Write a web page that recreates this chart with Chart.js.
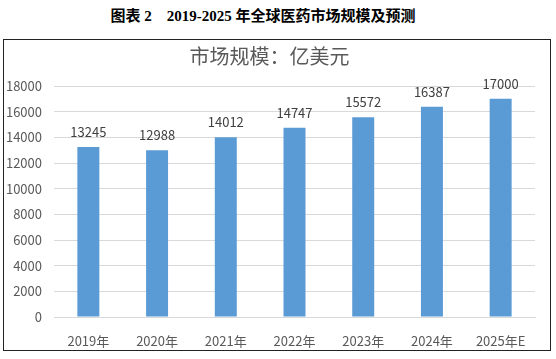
<!DOCTYPE html>
<html>
<head>
<meta charset="utf-8">
<script src="https://cdn.jsdelivr.net/npm/chart.js@4"></script>
<style>
  body { margin: 0; background: #fff; width: 556px; height: 359px; position: relative; }
  .page-title {
    position: absolute; left: 0; top: 4px; width: 526px; text-align: center;
    font: bold 15px "Liberation Serif", "Noto Sans CJK SC", serif; color: #000;
    white-space: pre;
  }
  .box {
    position: absolute; left: 3px; top: 39px; width: 546px; height: 310px;
    border: 1px solid #222;
  }
</style>
</head>
<body>
<div class="page-title">图表 2    2019-2025 年全球医药市场规模及预测</div>
<div class="box"><canvas id="myChart" width="546" height="310"></canvas></div>
<script>
const years = ["2019年", "2020年", "2021年", "2022年", "2023年", "2024年", "2025年E"];
const marketSize = [13245, 12988, 14012, 14747, 15572, 16387, 17000];
const chartTitle = "市场规模：亿美元";

const font = '"Noto Sans CJK SC", "Noto Sans", sans-serif';

// draws the value above every bar
const valueLabels = {
  id: "valueLabels",
  afterDatasetsDraw(chart) {
    const ctx = chart.ctx;
    const meta = chart.getDatasetMeta(0);
    ctx.save();
    ctx.font = "13px " + font;
    ctx.fillStyle = "#404040";
    ctx.textAlign = "center";
    ctx.textBaseline = "middle";
    meta.data.forEach((bar, i) => {
      ctx.fillText(chart.data.datasets[0].data[i], bar.x, bar.y - 15);
    });
    ctx.restore();
  },
};

const data = {
  labels: years,
  datasets: [
    {
      label: "市场规模",
      backgroundColor: "#5b9bd5",
      borderWidth: 0,
      data: marketSize,
      categoryPercentage: 1,
      barPercentage: 0.32,
    },
  ],
};

const config = {
  type: "bar",
  data,
  options: {
    responsive: false,
    animation: false,
    layout: { padding: { left: 0, right: 15, top: 0, bottom: 0 } },
    plugins: {
      legend: { display: false },
      tooltip: { enabled: false },
      title: {
        display: true,
        text: chartTitle,
        color: "#595959",
        font: { family: font, size: 20, weight: "normal", lineHeight: 1.2 },
        padding: { top: 4, bottom: 18 },
      },
    },
    scales: {
      x: {
        grid: { display: false },
        border: { display: true, color: "#d9d9d9" },
        ticks: { color: "#595959", font: { family: font, size: 13 }, padding: 8 },
        afterFit: (scale) => { scale.height = 33; },
      },
      y: {
        min: 0,
        max: 18000,
        grid: { color: "#d9d9d9", drawTicks: false },
        border: { display: false },
        ticks: {
          stepSize: 2000,
          color: "#595959",
          font: { family: font, size: 13 },
          padding: 12,
          callback: (value) => String(value),
        },
        afterFit: (scale) => { scale.width = 50; },
      },
    },
  },
  plugins: [valueLabels],
};

new Chart(document.getElementById("myChart"), config);
</script>
</body>
</html>
